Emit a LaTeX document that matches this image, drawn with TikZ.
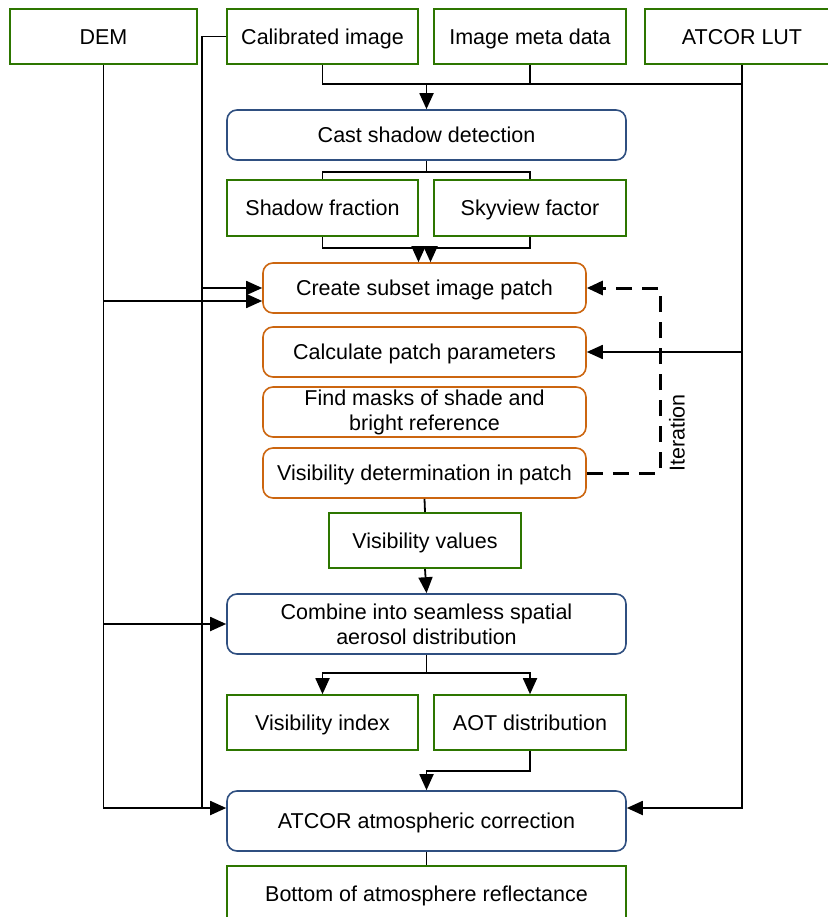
\documentclass[tikz,border=0pt]{standalone}
\usepackage{fontspec}
\setmainfont{Liberation Sans}
\usepackage{xcolor}
\usetikzlibrary{arrows.meta,positioning}

\definecolor{dgreen}{HTML}{2D7600}
\definecolor{dblue}{HTML}{2F4F80}
\definecolor{dorange}{HTML}{CC6610}

\begin{document}
\begin{tikzpicture}[x=1pt, y=-1pt,
    data/.style={rectangle, draw=dgreen, line width=1.6pt, minimum width=192pt, minimum height=55pt, inner sep=0pt, text height=15.5pt, text depth=0pt, font=\fontsize{21.5}{25}\selectfont, align=center},
    proc/.style={rectangle, draw=dblue, line width=1.6pt, rounded corners=10pt, minimum width=399pt, minimum height=50pt, inner sep=0pt, text height=15.5pt, text depth=0pt, font=\fontsize{21.5}{25}\selectfont, align=center},
    patch/.style={proc, draw=dorange, minimum width=323pt},
    twolines/.style={text height={}, text depth={}},
    link/.style={line width=1.8pt},
    flow/.style={line width=1.8pt, -{Triangle[length=16pt,width=14pt]}}
]
\useasboundingbox (0,0) rectangle (827,917);

% Inputs
\node[data, minimum width=187pt] (dem) at (103.5,36.5) {DEM};
\node[data, minimum width=191pt] (calib) at (322.5,36.5) {Calibrated image};
\node[data] (meta) at (530,36.5) {Image meta data};
\node[data, minimum width=194pt] (lut) at (742,36.5) {ATCOR LUT};

% Shadow processing
\node[proc] (cast) at (426.5,135) {Cast shadow detection};
\node[data, minimum width=191pt, minimum height=56pt] (shadow) at (322.5,208) {Shadow fraction};
\node[data, minimum height=56pt] (sky) at (530,208) {Skyview factor};

% Patch loop
\node[patch] (subset) at (424.5,288) {Create subset image patch};
\node[patch] (params) at (424.5,352) {Calculate patch parameters};
\node[patch, twolines] (masks) at (424.5,412) {Find masks of shade and\\bright reference};
\node[patch] (visdet) at (424.5,473) {Visibility determination in patch};
\node[data] (visval) at (425,540.5) {Visibility values};

% Outputs
\node[proc, twolines, minimum height=60pt] (combine) at (426.5,624) {Combine into seamless spatial\\aerosol distribution};
\node[data, minimum width=191pt] (visidx) at (322.5,722.5) {Visibility index};
\node[data] (aot) at (530,722.5) {AOT distribution};
\node[proc, minimum height=60pt] (atcor) at (426.5,821) {ATCOR atmospheric correction};
\node[data, minimum width=399pt] (boa) at (426.5,893.5) {Bottom of atmosphere reflectance};

% Iteration label
\node[rotate=90, font=\fontsize{21.5}{25}\selectfont] (iter) at (677,433) {Iteration};

% Junction rows
\coordinate (j1) at (426.5,84);
\coordinate (j2) at (0,301);
\coordinate (j3) at (0,172);
\coordinate (j5) at (0,248);
\coordinate (j6) at (0,673);
\coordinate (j7) at (0,771);
\coordinate (j4) at (0,808);
\coordinate (jc) at (202,0);
\coordinate (jd) at (660,0);
\coordinate (in1) at ([xshift=-6pt]subset.north);
\coordinate (in2) at ([xshift=6pt]subset.north);

% Inputs to shadow detection
\draw[link] (calib.south) |- (lut.south |- j1);
\draw[link] (meta.south) -- (meta.south |- j1);
\draw[flow] (j1) -- (cast.north);
\draw[link] (cast.south) -- (cast.south |- j3);
\draw[link] (shadow.north) |- (sky.north |- j3) -- (sky.north);
\draw[flow] (shadow.south) |- (in1 |- j5) -- (in1);
\draw[flow] (sky.south) |- (in2 |- j5) -- (in2);

% Side lines
\draw[flow] (dem.south) |- (atcor.west |- j4);
\draw[flow] (dem.south |- j2) -- (subset.west |- j2);
\draw[flow] (dem.south |- combine.west) -- (combine.west);
\draw[link] (calib.west) -| (jc |- j4);
\draw[flow] (jc |- subset.west) -- (subset.west);
\draw[flow] (lut.south) |- (atcor.east |- j4);
\draw[flow] (lut.south |- params.east) -- (params.east);

% Iteration loop
\draw[flow, line width=3pt, dash pattern=on 16pt off 10pt] (visdet.east) -| (jd |- subset.east) -- (subset.east);

% Main flow
\draw[link] (visdet.south) -- (visval.north);
\draw[flow] (visval.south) -- (combine.north);
\draw[link] (combine.south) -- (combine.south |- j6);
\draw[flow] (combine.south |- j6) -| (visidx.north);
\draw[flow] (combine.south |- j6) -| (aot.north);
\draw[flow] (aot.south) |- (atcor.north |- j7) -- (atcor.north);
\draw[link] (atcor.south) -- (boa.north);

\end{tikzpicture}
\end{document}
